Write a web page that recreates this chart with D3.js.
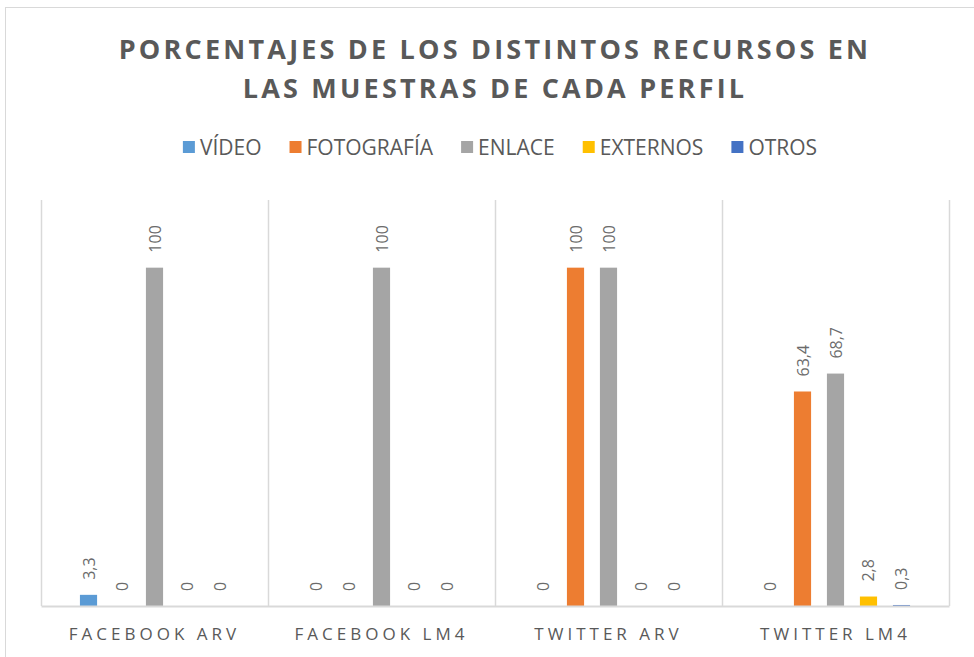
<!DOCTYPE html>
<html>
<head>
<meta charset="utf-8">
<script src="https://cdn.jsdelivr.net/npm/d3@7"></script>
<style>
  body { margin: 0; background: #fff; }
  svg { display: block; font-family: "Open Sans", sans-serif; }
</style>
</head>
<body>
<svg width="974" height="657"></svg>
<script>
// data
var categories = ["FACEBOOK ARV", "FACEBOOK LM4", "TWITTER ARV", "TWITTER LM4"];
var series = ["VÍDEO", "FOTOGRAFÍA", "ENLACE", "EXTERNOS", "OTROS"];
var colors = ["#5B9BD5", "#ED7D31", "#A5A5A5", "#FFC000", "#4472C4"];
var video = [3.3, 0, 0, 0];
var fotografia = [0, 0, 100, 63.4];
var enlace = [100, 100, 100, 68.7];
var externos = [0, 0, 0, 2.8];
var otros = [0, 0, 0, 0.3];
var titleLines = ["PORCENTAJES DE LOS DISTINTOS RECURSOS EN", "LAS MUESTRAS DE CADA PERFIL"];

var values = [video, fotografia, enlace, externos, otros];

var svg = d3.select("svg");
var margin = {left: 41, right: 25, top: 200, bottom: 51};
var width = +svg.attr("width"), height = +svg.attr("height");

// outer chart frame
svg.append("rect")
    .attr("x", 5.5).attr("y", 7.5)
    .attr("width", 1000).attr("height", 700)
    .attr("fill", "#fff").attr("stroke", "#d9d9d9");

// title
svg.append("g").selectAll("text")
  .data(titleLines)
  .enter().append("text")
    .attr("x", 495)
    .attr("y", function(d, i) { return 59 + i * 39; })
    .attr("text-anchor", "middle")
    .attr("fill", "#595959")
    .style("font-size", "27px")
    .style("font-weight", 700)
    .style("letter-spacing", "3.2px")
    .text(function(d) { return d; });

var x0 = d3.scaleBand()
    .domain(categories)
    .range([margin.left, width - margin.right]);

var x1 = d3.scaleBand()
    .domain(series)
    .range([0, x0.bandwidth()])
    .paddingInner(0.48)
    .paddingOuter(1.18);

var y = d3.scaleLinear()
    .domain([0, 120])
    .range([height - margin.bottom, margin.top]);

// category separators
var seps = categories.map(function(c) { return x0(c); }).concat([x0.range()[1]]);
svg.append("g").selectAll("line")
  .data(seps)
  .enter().append("line")
    .attr("x1", function(d) { return Math.round(d) + 0.5; })
    .attr("x2", function(d) { return Math.round(d) + 0.5; })
    .attr("y1", y(120)).attr("y2", y(0))
    .attr("stroke", "#d9d9d9").attr("stroke-width", 1.5);

// bars
var groups = svg.append("g").selectAll("g")
  .data(categories)
  .enter().append("g")
    .attr("transform", function(c) { return "translate(" + x0(c) + ",0)"; });

var cells = groups.selectAll("g")
  .data(function(c, ci) {
    return series.map(function(s, si) { return {s: s, si: si, v: values[si][ci]}; });
  })
  .enter().append("g");

cells.append("rect")
    .attr("x", function(d) { return x1(d.s); })
    .attr("y", function(d) { return y(d.v); })
    .attr("width", x1.bandwidth())
    .attr("height", function(d) { return y(0) - y(d.v); })
    .attr("fill", function(d) { return colors[d.si]; });

var fmt = function(v) { return (v % 1 === 0 ? String(v) : v.toFixed(1)).replace(".", ","); };

cells.append("text")
    .attr("transform", function(d) {
      return "translate(" + (x1(d.s) + x1.bandwidth() / 2 + 6) + "," + (y(d.v) - 15) + ") rotate(-90)";
    })
    .attr("fill", "#6b6b6b")
    .style("font-size", "16px")
    .text(function(d) { return fmt(d.v); });

// baseline axis
var xAxis = svg.append("g")
    .attr("transform", "translate(0," + y(0) + ")")
    .call(d3.axisBottom(x0).tickSize(0).tickPadding(22));
xAxis.select(".domain").attr("stroke", "#d9d9d9").attr("stroke-width", 2);
xAxis.selectAll("text")
    .attr("fill", "#595959")
    .style("font-family", "Open Sans, sans-serif")
    .style("font-size", "17px")
    .style("letter-spacing", "4px");

// legend
var legend = svg.append("g").attr("transform", "translate(0,147)");
var items = legend.selectAll("g")
  .data(series)
  .enter().append("g");
items.append("rect")
    .attr("y", -6).attr("width", 12).attr("height", 12)
    .attr("fill", function(d, i) { return colors[i]; });
items.append("text")
    .attr("x", 17).attr("y", 7.5)
    .attr("fill", "#595959")
    .style("font-size", "21px")
    .text(function(d) { return d; });
var pos = 0;
items.each(function() {
  var w = d3.select(this).select("text").node().getComputedTextLength();
  d3.select(this).attr("data-x", pos);
  pos += 17 + w + 28;
});
var total = pos - 28;
var start = 500 - total / 2;
items.attr("transform", function() { return "translate(" + (start + +this.getAttribute("data-x")) + ",0)"; });
</script>
</body>
</html>
